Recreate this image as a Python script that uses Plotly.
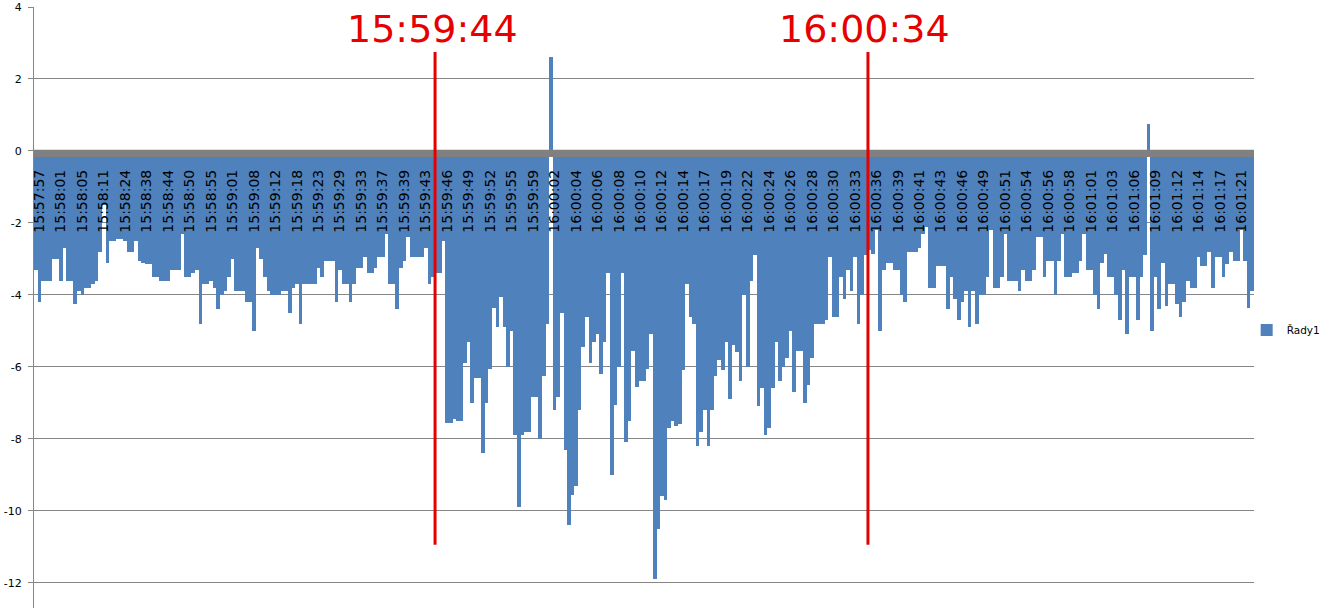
import plotly.graph_objects as go

# ---- data (one bar per sample) ----
values_pre = [
    -3.3, -4.2, -3.6, -3.6, -3.6, -3.0,
    -3.0, -3.6, -2.7, -3.6, -3.6, -4.25,
    -3.9, -4.0, -3.8, -3.8, -3.7, -3.6,
    -2.8, -1.5, -3.1, -2.5, -2.5, -2.45,
    -2.45, -2.5, -2.8, -2.8, -2.5, -3.05,
    -3.1, -3.15, -3.15, -3.5, -3.5, -3.6,
    -3.6, -3.6, -3.3, -3.3, -3.3, -2.3,
    -3.5, -3.5, -3.4, -3.3, -4.8, -3.7,
    -3.7, -3.6, -3.8, -4.4, -4.0, -3.9,
    -3.5, -3.0, -3.9, -3.9, -3.9, -4.2,
    -4.2, -5.0, -2.7, -3.0, -3.5, -3.9,
    -4.0, -4.0, -4.0, -3.9, -3.9, -4.5,
    -3.8, -3.7, -4.8, -3.7, -3.7, -3.7,
    -3.7, -3.25, -3.5, -3.05, -3.05, -3.05,
    -4.2, -3.3, -3.7, -3.7, -4.2, -3.7,
    -3.25, -3.25, -2.95, -3.4, -3.4, -3.25,
    -2.95, -2.95, -2.3, -3.7, -3.7, -4.4,
    -3.25, -3.05, -2.4, -2.95, -2.95, -2.95,
    -2.95, -2.7, -3.7, -3.5, -3.4, -3.4,
]
values_event = [
    -2.5, -7.55, -7.55, -7.45, -7.5, -7.5,
    -5.9, -5.3, -7.0, -6.3, -6.3, -8.4,
    -7.0, -6.05, -4.35, -4.9, -4.05, -4.9,
    -6.0, -5.0, -7.9, -9.9, -7.9, -7.8,
    -7.8, -6.85, -6.85, -8.0, -6.25, -4.8,
    2.6, -7.2, -6.85, -4.5, -8.3, -10.4,
    -9.55, -9.3, -7.2, -5.45, -4.6, -5.9,
    -5.3, -5.1, -6.2, -5.3, -3.4, -9.0,
    -7.05, -6.0, -3.4, -8.1, -7.5, -5.55,
    -6.55, -6.4, -6.4, -6.05, -5.1, -11.9,
    -10.5, -9.6, -9.7, -7.7, -7.5, -7.65,
    -7.6, -6.1, -3.7, -4.6, -4.8, -8.2,
    -7.8, -7.2, -8.2, -7.2, -6.25, -5.8,
    -6.1, -5.3, -6.9, -5.4, -5.6, -6.4,
    -4.0, -6.0, -3.6, -2.9, -7.1, -6.6,
    -7.9, -7.7, -6.6, -5.3, -6.4, -6.0,
    -5.75, -5.0, -6.7, -5.55, -5.55, -7.0,
    -6.5, -5.75, -4.8, -4.8, -4.8, -4.7,
    -2.95, -4.6, -4.6, -3.5, -4.1, -3.3,
    -3.9, -2.95, -4.8, -4.0, -2.9, -2.75,
]
values_post = [
    -2.85, -2.2, -5.0, -3.3, -3.1, -3.1,
    -3.3, -3.3, -4.0, -4.2, -2.8, -2.8,
    -2.8, -2.7, -2.3, -2.1, -3.8, -3.8,
    -3.2, -3.2, -3.2, -4.4, -3.5, -4.1,
    -4.7, -4.2, -3.9, -4.9, -3.9, -4.8,
    -4.0, -4.0, -3.5, -2.2, -3.8, -3.8,
    -3.5, -2.3, -3.6, -3.6, -3.6, -3.9,
    -3.3, -3.6, -3.6, -3.3, -2.4, -2.4,
    -3.5, -3.05, -3.05, -4.0, -3.05, -2.3,
    -3.5, -3.5, -3.4, -3.4, -3.05, -2.3,
    -3.3, -3.3, -4.0, -4.4, -3.1, -2.85,
    -3.5, -3.5, -4.0, -4.7, -3.3, -5.1,
    -3.5, -3.5, -4.7, -3.5, -2.9, 0.75,
    -5.0, -3.5, -4.4, -3.1, -4.3, -3.7,
    -3.7, -4.25, -4.6, -4.2, -3.6, -3.8,
    -3.8, -2.95, -3.2, -3.2, -2.8, -3.8,
    -2.95, -2.95, -3.5, -3.15, -2.8, -3.05,
    -3.05, -2.2, -3.05, -4.35, -3.9,
]
tick_labels = [
    "15:57:57", "15:58:01", "15:58:05", "15:58:11", "15:58:24", "15:58:38",
    "15:58:44", "15:58:50", "15:58:55", "15:59:01", "15:59:08", "15:59:12",
    "15:59:18", "15:59:23", "15:59:29", "15:59:33", "15:59:37", "15:59:39",
    "15:59:43", "15:59:46", "15:59:49", "15:59:52", "15:59:55", "15:59:59",
    "16:00:02", "16:00:04", "16:00:06", "16:00:08", "16:00:10", "16:00:12",
    "16:00:14", "16:00:17", "16:00:19", "16:00:22", "16:00:24", "16:00:26",
    "16:00:28", "16:00:30", "16:00:33", "16:00:36", "16:00:39", "16:00:41",
    "16:00:43", "16:00:46", "16:00:49", "16:00:51", "16:00:54", "16:00:56",
    "16:00:58", "16:01:01", "16:01:03", "16:01:06", "16:01:09", "16:01:12",
    "16:01:14", "16:01:17", "16:01:21",
]
label_step = 6
marker_labels = ["15:59:44", "16:00:34"]
marker_index = [111.6, 232.6]
series_name = "Řady1"

values = values_pre + values_event + values_post
n = len(values)
xs = list(range(n))
tickvals = [i * label_step + 1 for i in range(len(tick_labels))]

W, H = 1328, 608
ML, MR, MT, MB = 34, 74, 7, 0
y_min, y_max = -12.7, 4.0
plot_h = H - MT - MB

def ypaper(px):
    return (H - MB - px) / plot_h

fig = go.Figure()
fig.add_trace(go.Bar(
    x=xs, y=values, name=series_name,
    marker=dict(color="#4F81BD", line=dict(width=0)),
    showlegend=True,
))

grid = "#868686"
fig.update_layout(
    width=W, height=H,
    template="none",
    margin=dict(l=ML, r=MR, t=MT, b=MB, pad=0),
    paper_bgcolor="white", plot_bgcolor="white",
    bargap=0,
    font=dict(family="DejaVu Sans", color="black"),
    xaxis=dict(
        range=[-0.5, n - 0.5],
        tickmode="array", tickvals=tickvals, ticktext=tick_labels,
        tickangle=-90,
        tickfont=dict(family="DejaVu Sans", size=14, color="black"),
        showgrid=False, zeroline=False, showline=False, ticks="",
        anchor="free", position=ypaper(166),
        automargin=False,
    ),
    yaxis=dict(
        range=[y_min, y_max],
        tickmode="array", tickvals=[-12, -10, -8, -6, -4, -2, 0, 2, 4],
        ticktext=["-12", "-10", "-8", "-6", "-4", "-2", "0", "2", "4"],
        tickfont=dict(family="DejaVu Sans", size=11, color="black"),
        showgrid=True, gridcolor=grid, gridwidth=1,
        zeroline=False,
        showline=True, linecolor=grid, linewidth=1,
        ticks="outside", ticklen=5, tickcolor=grid,
        ticklabelstandoff=4,
        automargin=False,
    ),
    legend=dict(
        x=0.994, y=ypaper(330), xanchor="left", yanchor="middle",
        font=dict(family="DejaVu Sans", size=10.5, color="black"),
        bgcolor="rgba(0,0,0,0)", itemwidth=30,
    ),
)

# thick gray category-axis band at zero
fig.add_shape(type="rect", xref="paper", yref="y", x0=0, x1=1, y0=0.03, y1=-0.17,
              fillcolor="#808080", line=dict(width=0), layer="above")

red = "#E60000"
for lbl, xi in zip(marker_labels, marker_index):
    fig.add_shape(type="line", xref="x", yref="y", x0=xi, x1=xi, y0=2.75, y1=-10.94,
                  line=dict(color=red, width=3), layer="above")
    fig.add_annotation(x=xi, xref="x", y=ypaper(29), yref="paper", text=lbl,
                       showarrow=False, xshift=-3, xanchor="center", yanchor="middle",
                       font=dict(family="DejaVu Sans", size=38, color=red))

fig.write_html(
    "out.html",
    config={"displayModeBar": False},
    post_script="document.body.style.margin='0';document.body.style.overflow='hidden';",
)
